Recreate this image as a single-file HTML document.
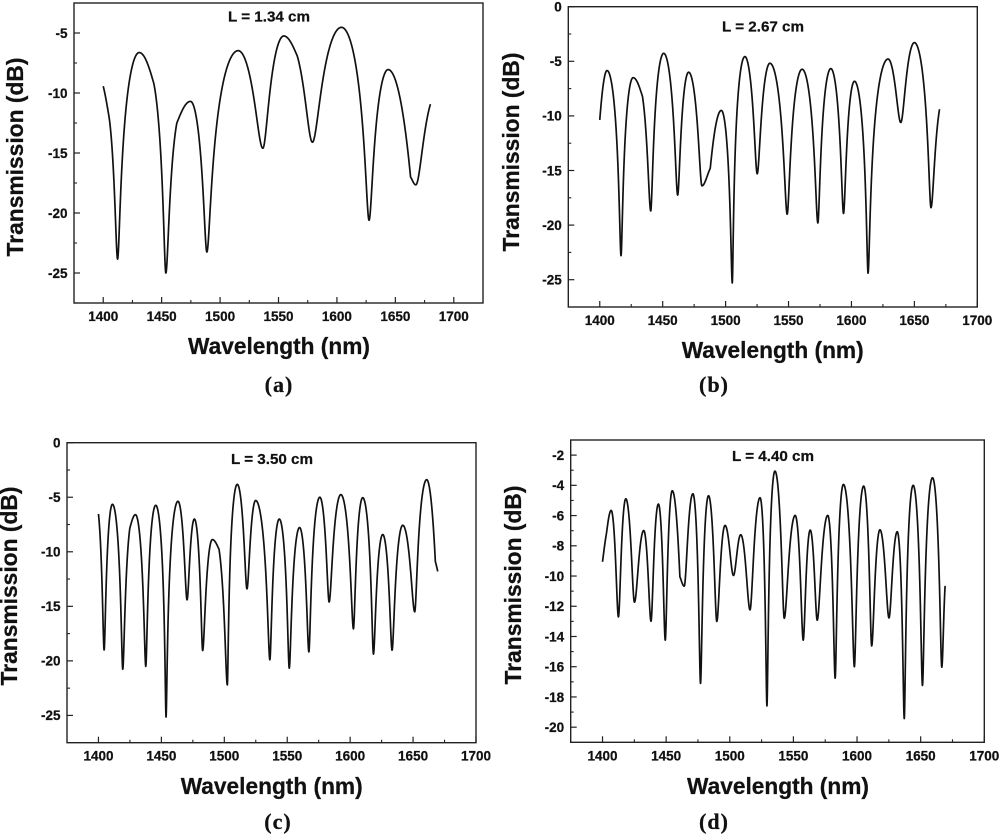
<!DOCTYPE html>
<html lang="en">
<head>
<meta charset="utf-8">
<title>Transmission spectra for four fiber lengths</title>
<style>
html,body{margin:0;padding:0;background:#fff;}
body{width:1000px;height:835px;overflow:hidden;}
svg{display:block;filter:blur(0.35px);}
text{fill:#111;stroke:#111;stroke-width:0.25px;font-family:"Liberation Sans",Arial,sans-serif;font-weight:bold;}
</style>
</head>
<body>
<svg id="figure" xmlns="http://www.w3.org/2000/svg" width="1000" height="835" viewBox="0 0 1000 835"></svg>
<script>
/* Values: peaks, dips and shoulders of each spectrum */
const wavelengthA = [1400,1405,1412.3,1430.8,1443.3,1453.6,1463,1474.7,1488.7,1515.5,1536.6,1554.5,1566,1579,1603.9,1627.5,1643.8,1663,1667.5,1680];
const transmissionA = [-9.43,-12,-23.84,-6.63,-9.2,-25,-12.5,-10.7,-23.25,-6.47,-14.6,-5.25,-6.9,-14.1,-4.53,-20.6,-8.05,-17,-17.65,-10.93];

const wavelengthB = [1400,1405.8,1416.9,1426.5,1433.9,1440.5,1450.8,1461.9,1470.6,1481.2,1487.8,1496.6,1505.3,1515.3,1525.1,1535.2,1548.9,1560.8,1573.3,1583.6,1593.7,1602.4,1613.2,1629.1,1639.2,1650,1663.2,1670];
const transmissionB = [-10.37,-5.85,-22.8,-6.5,-8.2,-18.7,-4.27,-17.25,-6,-16.4,-14.8,-9.5,-25.3,-4.57,-15.3,-5.18,-19,-5.73,-19.8,-5.67,-18.93,-6.83,-24.4,-4.79,-10.6,-3.29,-18.4,-9.39];

const wavelengthC = [1400,1404.5,1411.1,1419.3,1424.9,1429.4,1437.6,1445.5,1453.7,1463.2,1470.4,1476.2,1482.8,1490.5,1495.8,1502.4,1510.3,1518,1524.9,1536.2,1543.7,1551.6,1559.8,1567.2,1575.9,1583.3,1592.6,1602.6,1610,1618.5,1625.9,1633.3,1641.8,1651.3,1660.8,1667.7,1669.6];
const transmissionC = [-6.53,-19,-5.65,-20.76,-7.85,-6.6,-20.5,-5.74,-25.15,-5.37,-14.4,-7,-19.05,-8.88,-9.77,-22.2,-3.82,-13.4,-5.3,-19.9,-7,-20.67,-7.78,-19.17,-5,-14.6,-4.76,-17.06,-5.04,-19.38,-8.42,-19.02,-7.57,-15.5,-3.39,-10.9,-11.8];

const wavelengthD = [1400,1403.1,1406.8,1412.5,1418.3,1425.1,1432.4,1438.1,1443.9,1449.3,1454.8,1460.8,1464.2,1471,1477,1483.3,1489.8,1496.3,1502.9,1508.6,1515.9,1523.8,1529.2,1535.5,1542.8,1551.4,1557.7,1563.2,1568.7,1577,1582.8,1589.3,1597.9,1605.2,1611.5,1618,1625.1,1631.6,1637.1,1644.1,1651.4,1659.3,1666.6,1669.2];
const transmissionD = [-9.06,-7.18,-5.66,-12.7,-4.89,-11.73,-6.99,-12.99,-5.24,-14.24,-4.36,-10.05,-10.67,-4.56,-17.1,-4.69,-13,-6.65,-9.96,-7.27,-12.24,-4.82,-18.59,-3.06,-12.79,-5.99,-14.24,-6.96,-12.92,-5.99,-16.76,-3.94,-16,-4.05,-14.62,-6.94,-12.77,-7.07,-19.43,-4,-17.24,-3.5,-16.03,-10.65];

const xTickLabels = [1400,1450,1500,1550,1600,1650,1700];
const xMinorTicks = [1425,1475,1525,1575,1625,1675];
const yTickLabelsA = [-5,-10,-15,-20,-25];
const yMinorTicksA = [-7.5,-12.5,-17.5,-22.5,-27.5];
const yTickLabelsB = [0,-5,-10,-15,-20,-25];
const yMinorTicksB = [-2.5,-7.5,-12.5,-17.5,-22.5];
const yTickLabelsC = [0,-5,-10,-15,-20,-25];
const yMinorTicksC = [-2.5,-7.5,-12.5,-17.5,-22.5];
const yTickLabelsD = [-2,-4,-6,-8,-10,-12,-14,-16,-18,-20];
const yMinorTicksD = [-3,-5,-7,-9,-11,-13,-15,-17,-19];

const NS = 'http://www.w3.org/2000/svg';
const figure = document.getElementById('figure');

function mk(tag, parent) {
  const el = document.createElementNS(NS, tag);
  parent.appendChild(el);
  return el;
}

/* A knot is open (no flat tangent) at the series ends and on monotone shoulders */
function isOpenKnot(db, i) {
  if (i === 0 || i === db.length - 1) return true;
  return (db[i - 1] - db[i]) * (db[i] - db[i + 1]) > 0;
}

/* Fringe-shaped curve between two neighbouring read values */
function fringe(x, x0, y0, x1, y1, open0, open1) {
  const falling = y0 >= y1;
  const yHi = falling ? y0 : y1;
  const yLo = falling ? y1 : y0;
  const openHi = falling ? open0 : open1;
  const openLo = falling ? open1 : open0;
  const dHi = openHi ? 0.3 : 0;
  const dLo = openLo ? 0.6 : 1;
  const eps = Math.pow(10, -(yHi - yLo) / 10);
  const g = d => {
    const c = Math.cos(Math.PI * d / 2);
    return 10 * Math.log10(eps + (1 - eps) * c * c);
  };
  const u = (x - x0) / (x1 - x0);
  const w = falling ? u : 1 - u;
  const d = dHi + (dLo - dHi) * w;
  return yHi + (yLo - yHi) * (g(dHi) - g(d)) / (g(dHi) - g(dLo));
}

function drawPanel(p) {
  const sx = v => p.left + (v - p.xMin) / (p.xMax - p.xMin) * (p.right - p.left);
  const sy = v => p.top + (p.yMax - v) / (p.yMax - p.yMin) * (p.bottom - p.top);

  const g = mk('g', figure);
  
  

  const frame = mk('rect', g);
  
  
  frame.setAttribute('x', p.left);
  frame.setAttribute('y', p.top);
  frame.setAttribute('width', p.right - p.left);
  frame.setAttribute('height', p.bottom - p.top);
  frame.setAttribute('fill', 'none');
  frame.setAttribute('stroke', '#222');
  frame.setAttribute('stroke-width', '1.4');

  xTickLabels.forEach(v => {
    if (v > p.xMax) return;
    const t = mk('line', g);
    
    
    t.setAttribute('x1', sx(v));
    t.setAttribute('x2', sx(v));
    t.setAttribute('y1', p.bottom);
    t.setAttribute('y2', p.bottom - 6);
    t.setAttribute('stroke', '#222');
    t.setAttribute('stroke-width', '1.2');
    const l = mk('text', g);
    
    
    l.setAttribute('x', sx(v));
    l.setAttribute('y', p.bottom + 18);
    l.setAttribute('text-anchor', 'middle');
    l.setAttribute('font-size', '13.5');
    l.textContent = v;
  });
  xMinorTicks.forEach(v => {
    const t = mk('line', g);
    
    
    t.setAttribute('x1', sx(v));
    t.setAttribute('x2', sx(v));
    t.setAttribute('y1', p.bottom);
    t.setAttribute('y2', p.bottom - 3);
    t.setAttribute('stroke', '#222');
    t.setAttribute('stroke-width', '1.1');
  });
  p.yTicks.forEach(v => {
    const t = mk('line', g);
    
    
    t.setAttribute('x1', p.left);
    t.setAttribute('x2', p.left + 6);
    t.setAttribute('y1', sy(v));
    t.setAttribute('y2', sy(v));
    t.setAttribute('stroke', '#222');
    t.setAttribute('stroke-width', '1.2');
    const l = mk('text', g);
    
    
    l.setAttribute('x', p.left - 6.5);
    l.setAttribute('y', sy(v) + 4.8);
    l.setAttribute('text-anchor', 'end');
    l.setAttribute('font-size', '13.5');
    l.textContent = v;
  });
  p.yMinor.forEach(v => {
    const t = mk('line', g);
    
    
    t.setAttribute('x1', p.left);
    t.setAttribute('x2', p.left + 3);
    t.setAttribute('y1', sy(v));
    t.setAttribute('y2', sy(v));
    t.setAttribute('stroke', '#222');
    t.setAttribute('stroke-width', '1.1');
  });

  let d = 'M' + sx(p.wl[0]).toFixed(2) + ' ' + sy(p.db[0]).toFixed(2);
  for (let i = 0; i < p.wl.length - 1; i++) {
    const x0 = p.wl[i], x1 = p.wl[i + 1], y0 = p.db[i], y1 = p.db[i + 1];
    const open0 = isOpenKnot(p.db, i);
    const open1 = isOpenKnot(p.db, i + 1);
    const n = Math.max(4, Math.ceil((x1 - x0) / 0.1));
    for (let k = 1; k <= n; k++) {
      const x = x0 + (x1 - x0) * k / n;
      const y = k === n ? y1 : fringe(x, x0, y0, x1, y1, open0, open1);
      d += 'L' + sx(x).toFixed(2) + ' ' + sy(y).toFixed(2);
    }
  }
  const curve = mk('path', g);
  
  
  curve.setAttribute('d', d);
  curve.setAttribute('fill', 'none');
  curve.setAttribute('stroke', '#111');
  curve.setAttribute('stroke-width', '1.7');
  curve.setAttribute('stroke-linejoin', 'round');

  const note = mk('text', g);
  
  
  note.setAttribute('x', p.noteX);
  note.setAttribute('y', p.noteY);
  note.setAttribute('text-anchor', 'middle');
  note.setAttribute('font-size', '15.2');
  note.textContent = p.note;

  const xt = mk('text', g);
  
  
  xt.setAttribute('x', p.xTitleX);
  xt.setAttribute('y', p.xTitleY);
  xt.setAttribute('text-anchor', 'middle');
  xt.setAttribute('font-size', '22.7');
  xt.textContent = 'Wavelength (nm)';

  const yt = mk('text', g);
  
  
  yt.setAttribute('transform', 'translate(' + p.yTitleX + ' ' + p.yTitleY + ') rotate(-90)');
  yt.setAttribute('text-anchor', 'middle');
  yt.setAttribute('font-size', '22.8');
  yt.textContent = 'Transmission (dB)';

  const cap = mk('text', g);
  
  
  cap.setAttribute('x', p.capX);
  cap.setAttribute('y', p.capY);
  cap.setAttribute('text-anchor', 'middle');
  cap.setAttribute('font-size', '22');
  cap.setAttribute('letter-spacing', '1');
  cap.setAttribute('style', 'font-family:"Liberation Serif",serif;');
  cap.textContent = '(' + p.id + ')';
}

drawPanel({id:'a', wl:wavelengthA, db:transmissionA, yTicks:yTickLabelsA, yMinor:yMinorTicksA,
  left:74, right:483, top:3, bottom:303, xMin:1375, xMax:1725, yMin:-27.5, yMax:-2.5,
  note:'L = 1.34 cm', noteX:269, noteY:21.5, xTitleX:279, xTitleY:354, yTitleX:23, yTitleY:157, capX:279, capY:392});
drawPanel({id:'b', wl:wavelengthB, db:transmissionB, yTicks:yTickLabelsB, yMinor:yMinorTicksB,
  left:568.3, right:977.3, top:6.7, bottom:307, xMin:1375, xMax:1700, yMin:-27.5, yMax:0,
  note:'L = 2.67 cm', noteX:763, noteY:31.5, xTitleX:772.7, xTitleY:358, yTitleX:519, yTitleY:152, capX:714, capY:392});
drawPanel({id:'c', wl:wavelengthC, db:transmissionC, yTicks:yTickLabelsC, yMinor:yMinorTicksC,
  left:67, right:476, top:442.7, bottom:742.7, xMin:1375, xMax:1700, yMin:-27.5, yMax:0,
  note:'L = 3.50 cm', noteX:272, noteY:464, xTitleX:271.7, xTitleY:794, yTitleX:17, yTitleY:586, capX:278, capY:829});
drawPanel({id:'d', wl:wavelengthD, db:transmissionD, yTicks:yTickLabelsD, yMinor:yMinorTicksD,
  left:570.7, right:984.3, top:440, bottom:742.3, xMin:1375, xMax:1700, yMin:-21, yMax:-1,
  note:'L = 4.40 cm', noteX:773, noteY:461, xTitleX:778, xTitleY:794, yTitleX:521, yTitleY:585, capX:714, capY:829});
</script>
</body>
</html>
